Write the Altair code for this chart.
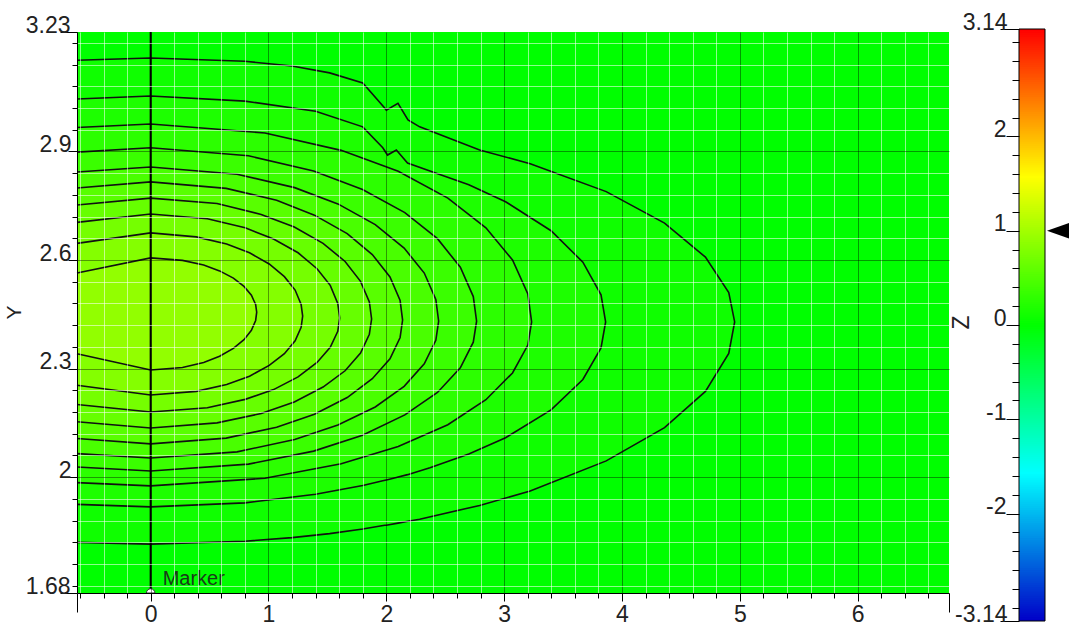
import altair as alt
import pandas as pd

# ---- axis ranges -------------------------------------------------------
X_DOMAIN = [-0.625, 6.775]
Y_DOMAIN = [1.68, 3.23]
Z_DOMAIN = [-3.14, 3.14]

# ---- colour map (Z) ----------------------------------------------------
z_stops = [-3.14, -1.57, 0.0, 1.57, 3.14]
z_colors = ["#0000c8", "#00ffff", "#00ff00", "#ffff00", "#ff0000"]

# ---- contour outlines, outermost first ---------------------------------
# field value of the region enclosed by each contour
ring_levels = [0.09, 0.18, 0.27, 0.36, 0.45, 0.54, 0.63, 0.72, 0.81, 0.90]

ring10_x = [-0.625, 0.0, 0.8, 1.2, 1.519, 1.8, 1.986, 2.0, 2.099, 2.184, 2.283, 2.792, 3.221, 3.866, 4.361, 4.708, 4.906, 4.956]
ring10_top = [3.152, 3.158, 3.149, 3.136, 3.117, 3.089, 3.020, 3.014, 3.033, 2.987, 2.968, 2.904, 2.866, 2.789, 2.702, 2.608, 2.510, 2.429]
ring10_bot = [1.820, 1.815, 1.823, 1.833, 1.844, 1.857, 1.867, 1.867, 1.873, 1.878, 1.884, 1.922, 1.962, 2.045, 2.137, 2.237, 2.342, 2.429]

ring9_x = [-0.625, 0.0, 0.8, 1.4, 1.8, 1.97, 2.01, 2.085, 2.18, 2.37, 2.7, 3.012, 3.398, 3.668, 3.822, 3.861]
ring9_top = [3.045, 3.053, 3.039, 3.011, 2.968, 2.910, 2.890, 2.904, 2.868, 2.846, 2.808, 2.761, 2.681, 2.594, 2.504, 2.429]
ring9_bot = [1.925, 1.918, 1.929, 1.953, 1.977, 1.990, 1.993, 1.999, 2.007, 2.026, 2.064, 2.109, 2.186, 2.270, 2.357, 2.429]

ring8_x = [-0.625, 0.0, 0.970, 1.617, 2.101, 2.522, 2.845, 3.071, 3.201, 3.233]
ring8_top = [2.966, 2.976, 2.951, 2.903, 2.845, 2.771, 2.689, 2.600, 2.506, 2.429]
ring8_bot = [1.985, 1.976, 1.997, 2.037, 2.085, 2.145, 2.214, 2.288, 2.365, 2.429]

ring7_x = [-0.625, 0.0, 0.830, 1.383, 1.798, 2.157, 2.434, 2.628, 2.738, 2.766]
ring7_top = [2.898, 2.910, 2.888, 2.846, 2.795, 2.731, 2.659, 2.580, 2.499, 2.431]
ring7_bot = [2.028, 2.017, 2.036, 2.072, 2.116, 2.172, 2.234, 2.302, 2.373, 2.431]

ring6_x = [-0.625, 0.0, 0.733, 1.222, 1.589, 1.906, 2.151, 2.322, 2.420, 2.444]
ring6_top = [2.843, 2.857, 2.837, 2.800, 2.755, 2.698, 2.633, 2.564, 2.491, 2.431]
ring6_bot = [2.065, 2.053, 2.070, 2.104, 2.144, 2.194, 2.251, 2.313, 2.378, 2.431]

ring5_x = [-0.625, 0.0, 0.641, 1.069, 1.390, 1.668, 1.881, 2.031, 2.117, 2.138]
ring5_top = [2.799, 2.816, 2.798, 2.765, 2.724, 2.673, 2.615, 2.553, 2.488, 2.434]
ring5_bot = [2.107, 2.092, 2.108, 2.138, 2.174, 2.220, 2.272, 2.327, 2.386, 2.434]

ring4_x = [-0.625, 0.0, 0.563, 0.938, 1.219, 1.463, 1.650, 1.781, 1.856, 1.875]
ring4_top = [2.752, 2.771, 2.756, 2.726, 2.691, 2.646, 2.596, 2.541, 2.484, 2.437]
ring4_bot = [2.153, 2.136, 2.150, 2.176, 2.208, 2.249, 2.294, 2.343, 2.395, 2.437]

ring3_x = [-0.625, 0.0, 0.481, 0.802, 1.043, 1.251, 1.412, 1.524, 1.588, 1.604]
ring3_top = [2.704, 2.727, 2.714, 2.689, 2.658, 2.620, 2.576, 2.530, 2.480, 2.440]
ring3_bot = [2.201, 2.180, 2.192, 2.215, 2.242, 2.277, 2.317, 2.359, 2.403, 2.440]

ring2_x = [-0.625, 0.0, 0.387, 0.645, 0.839, 1.006, 1.135, 1.226, 1.277, 1.290]
ring2_top = [2.646, 2.675, 2.664, 2.644, 2.620, 2.589, 2.554, 2.517, 2.477, 2.445]
ring2_bot = [2.254, 2.227, 2.237, 2.256, 2.279, 2.309, 2.341, 2.377, 2.414, 2.445]

ring1_x = [-0.625, 0.0, 0.270, 0.450, 0.585, 0.702, 0.792, 0.855, 0.891, 0.900]
ring1_top = [2.564, 2.606, 2.599, 2.586, 2.570, 2.550, 2.527, 2.503, 2.477, 2.456]
ring1_bot = [2.341, 2.296, 2.303, 2.317, 2.334, 2.356, 2.380, 2.406, 2.433, 2.456]

rings = [
    (ring10_x, ring10_top, ring10_bot),
    (ring9_x, ring9_top, ring9_bot),
    (ring8_x, ring8_top, ring8_bot),
    (ring7_x, ring7_top, ring7_bot),
    (ring6_x, ring6_top, ring6_bot),
    (ring5_x, ring5_top, ring5_bot),
    (ring4_x, ring4_top, ring4_bot),
    (ring3_x, ring3_top, ring3_bot),
    (ring2_x, ring2_top, ring2_bot),
    (ring1_x, ring1_top, ring1_bot),
]

# ---- marker and colour-bar pointer -------------------------------------
marker_x = [0.0]
marker_text = ["Marker"]
pointer_z = [1.0]

# ---- tick positions ----------------------------------------------------
x_ticks = [X_DOMAIN[0]] + [i / 5 for i in range(-3, 34)] + [X_DOMAIN[1]]
y_ticks = [Y_DOMAIN[0]] + [round(1.70 + 0.06 * i, 2) for i in range(26)] + [Y_DOMAIN[1]]
z_ticks = [Z_DOMAIN[0]] + [i / 5 for i in range(-15, 16)] + [Z_DOMAIN[1]]

FONT = "Liberation Sans, Arial, sans-serif"
TEXT = "#222222"
W, H = 872, 561

xs = alt.Scale(domain=X_DOMAIN, nice=False, zero=False)
ys = alt.Scale(domain=Y_DOMAIN, nice=False, zero=False)
cs = alt.Scale(domain=z_stops, range=z_colors, interpolate="rgb")

x_end = "datum.value < -0.61 || datum.value > 6.7"
x_major = "datum.value % 1 === 0"
x_axis = alt.Axis(
    values=x_ticks, title=None, grid=True, zindex=1,
    domainColor="black", tickColor="black",
    tickSize={"condition": [{"test": x_end, "value": 19}, {"test": x_major, "value": 8}], "value": 5},
    gridColor={"condition": {"test": x_major, "value": "#000000"}, "value": "#ffffff"},
    gridOpacity={"condition": [{"test": x_end, "value": 0}, {"test": x_major, "value": 0.4}], "value": 0.55},
    labelExpr=f"({x_major}) ? format(datum.value, 'd') : ''",
    labelFlush=False, labelOverlap=False, labelPadding=2,
    labelFont=FONT, labelFontSize=23, labelColor=TEXT,
)

y_end = "datum.value < 1.69 || datum.value > 3.22"
y_major = "indexof([2, 2.3, 2.6, 2.9], datum.value) >= 0"
y_axis = alt.Axis(
    values=y_ticks, title="Y", grid=True, zindex=1,
    domainColor="black", tickColor="black",
    tickSize={"condition": [{"test": y_end, "value": 17}, {"test": y_major, "value": 9}], "value": 5},
    gridColor={"condition": {"test": y_major, "value": "#000000"}, "value": "#ffffff"},
    gridOpacity={"condition": [{"test": y_end, "value": 0}, {"test": y_major, "value": 0.4}], "value": 0.55},
    labelExpr=f"({y_end}) || ({y_major}) ? '' + datum.value : ''",
    labelPadding={"condition": {"test": y_end, "value": -10}, "value": -3},
    labelBaseline="alphabetic", labelAlign="right",
    labelFlush=False, labelOverlap=False,
    labelFont=FONT, labelFontSize=23, labelColor=TEXT,
    titleFont=FONT, titleFontSize=21, titleFontWeight="normal", titleColor=TEXT,
    titleAngle=270, titleAlign="center", titleBaseline="middle", titleX=-63, titleY=280,
)

z_end = "abs(datum.value) > 3.1"
z_major = "datum.value % 1 === 0 && abs(datum.value) < 2.5"
z_axis = alt.Axis(
    values=z_ticks, orient="left", offset=-942, title="Z", grid=False, zindex=1,
    domain=False, tickColor="black",
    tickSize={"condition": [{"test": z_end, "value": 19}, {"test": z_major, "value": 13}], "value": 7},
    labelExpr=f"({z_end}) || ({z_major}) ? '' + datum.value : ''",
    labelPadding={"condition": {"test": z_end, "value": -7}, "value": 0},
    labelBaseline="alphabetic", labelAlign="right",
    labelFlush=False, labelOverlap=False,
    labelFont=FONT, labelFontSize=23, labelColor=TEXT,
    titleFont=FONT, titleFontSize=23, titleFontWeight="normal", titleColor=TEXT,
    titleAngle=270, titleAlign="center", titleBaseline="middle", titleX=-58, titleY=290,
)

# ---- filled contour bands ----------------------------------------------
fills = []
for (rx, rt, rb), lev in zip(rings, ring_levels):
    band = pd.DataFrame({"x": rx, "top": rt, "bot": rb, "z": lev})
    fills.append(
        alt.Chart(band).mark_area(interpolate="linear").encode(
            x=alt.X("x:Q", scale=xs, axis=x_axis),
            y=alt.Y("top:Q", scale=ys, axis=y_axis),
            y2="bot:Q",
            color=alt.Color("z:Q", scale=cs, legend=None),
        )
    )

# ---- contour lines (closed outline: top left->right, bottom back) ------
rows = []
for k, (rx, rt, rb) in enumerate(rings):
    path = list(zip(rx, rt)) + list(zip(rx[::-1], rb[::-1]))[1:]
    for i, (px, py) in enumerate(path):
        rows.append({"ring": k, "i": i, "x": px, "y": py})
outline = pd.DataFrame(rows)

lines = alt.Chart(outline).mark_line(color="#111111", strokeWidth=1.6, interpolate="linear").encode(
    x=alt.X("x:Q", scale=xs, axis=x_axis),
    y=alt.Y("y:Q", scale=ys, axis=y_axis),
    detail="ring:N",
    order="i:Q",
)

# ---- marker ------------------------------------------------------------
marker_df = pd.DataFrame({"x": marker_x, "y": [Y_DOMAIN[0]] * len(marker_x), "label": marker_text})
marker_line = alt.Chart(marker_df).mark_rule(color="black", strokeWidth=2).encode(
    x=alt.X("x:Q", scale=xs, axis=x_axis)
)
marker_label = alt.Chart(marker_df).mark_text(
    align="left", baseline="alphabetic", dx=12, dy=-8, font=FONT, fontSize=20, color="#1a3a1a"
).encode(
    x=alt.X("x:Q", scale=xs, axis=x_axis),
    y=alt.Y("y:Q", scale=ys, axis=y_axis),
    text="label:N",
)
marker_handle = alt.Chart(marker_df).mark_point(
    shape="M -1 0 A 1 1 0 0 1 1 0 Z", size=72, filled=True, fill="white",
    stroke="#333333", strokeWidth=1, opacity=1,
).encode(
    x=alt.X("x:Q", scale=xs, axis=x_axis),
    y=alt.Y("y:Q", scale=ys, axis=y_axis),
)

main = alt.layer(*fills, lines, marker_line, marker_label, marker_handle)

# ---- colour bar --------------------------------------------------------
cbx = alt.Scale(domain=[0, 1], range=[942, 968])
cby = alt.Scale(domain=Z_DOMAIN, range=[589, -3], nice=False, zero=False)

strip_lo = [Z_DOMAIN[0] + 0.02 * i for i in range(314)]
strips = pd.DataFrame({
    "x0": 0.0, "x1": 1.0,
    "z0": strip_lo,
    "z1": [min(z + 0.03, Z_DOMAIN[1]) for z in strip_lo],
    "zc": [z + 0.01 for z in strip_lo],
})
bar = alt.Chart(strips).mark_rect(strokeWidth=0).encode(
    x=alt.X("x0:Q", scale=cbx, axis=None),
    x2="x1:Q",
    y=alt.Y("z0:Q", scale=cby, axis=z_axis),
    y2="z1:Q",
    color=alt.Color("zc:Q", scale=cs, legend=None),
)
frame_df = pd.DataFrame({"x0": [0.0], "x1": [1.0], "z0": [Z_DOMAIN[0]], "z1": [Z_DOMAIN[1]]})
frame = alt.Chart(frame_df).mark_rect(filled=False, color="black", strokeWidth=1).encode(
    x=alt.X("x0:Q", scale=cbx, axis=None),
    x2="x1:Q",
    y=alt.Y("z0:Q", scale=cby, axis=z_axis),
    y2="z1:Q",
)
pointer_df = pd.DataFrame({"edge": [1.0] * len(pointer_z), "z": pointer_z})
pointer = alt.Chart(pointer_df).mark_point(
    shape="M -1 0 L 1 -0.7 L 1 0.7 Z", size=484, filled=True, color="black", opacity=1, xOffset=13
).encode(
    x=alt.X("edge:Q", scale=cbx, axis=None),
    y=alt.Y("z:Q", scale=cby, axis=z_axis),
)

colorbar = alt.layer(bar, frame, pointer)

chart = (
    alt.layer(main, colorbar)
    .resolve_scale(x="independent", y="independent")
    .properties(
        width=W, height=H,
        autosize=alt.AutoSizeParams(type="none"),
        padding={"left": 77, "top": 32, "right": 1070 - 77 - W, "bottom": 626 - 32 - H},
        background="white",
    )
    .configure_view(strokeWidth=0, fill="#00ff00")
)

chart.save("out.html", embed_options={"renderer": "svg", "actions": False})
